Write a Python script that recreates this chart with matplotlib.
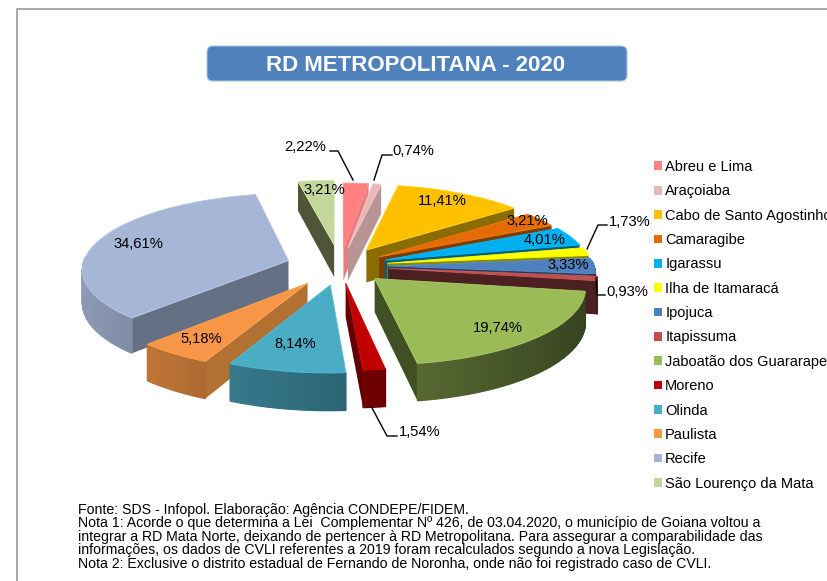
import numpy as np
import matplotlib
matplotlib.use('Agg')
import matplotlib.pyplot as plt
from matplotlib.patches import Polygon, FancyBboxPatch, Patch
from matplotlib.colors import to_rgb

plt.rcParams['font.family'] = ['Liberation Sans', 'DejaVu Sans']

categories = ['Abreu e Lima', 'Araçoiaba', 'Cabo de Santo Agostinho', 'Camaragibe', 'Igarassu',
              'Ilha de Itamaracá', 'Ipojuca', 'Itapissuma', 'Jaboatão dos Guararapes', 'Moreno',
              'Olinda', 'Paulista', 'Recife', 'São Lourenço da Mata']
values = [2.22, 0.74, 11.41, 3.21, 4.01, 1.73, 3.33, 0.93, 19.74, 1.54, 8.14, 5.18, 34.61, 3.21]
value_labels = ['2,22%', '0,74%', '11,41%', '3,21%', '4,01%', '1,73%', '3,33%', '0,93%', '19,74%',
                '1,54%', '8,14%', '5,18%', '34,61%', '3,21%']

colors = ['#ff8080', '#e6b8b7', '#ffc000', '#e36c09', '#00b0f0', '#ffff00', '#4f81bd', '#c0504d',
          '#9bbb59', '#c00000', '#4bacc6', '#f79646', '#a6b6d6', '#c3d69b']
wall_colors = ['#e87d7d', '#b89595', '#8a6c00', '#7a3e04', '#005f80', '#8a8a00', '#1f3f66', '#4a2020',
               '#414f24', '#650000', '#2f6f85', '#b37033', '#667085', '#50553a']
explode = [50, 50, 52, 47, 48, 48, 48, 49, 48, 46, 52, 56, 54, 60]

# posicao dos rotulos e linhas de chamada
label_pos = [(305, 147), (413, 151), (442, 201), (527, 221), (545, 240), (630, 222), (568, 265),
             (627, 292), (498, 328), (420, 432), (295, 344), (201, 339), (138, 244), (324, 190)]
leaders = [[(330, 151), (338, 151), (353, 180)],
           [(392, 155), (382, 155), (374, 180)],
           [(607, 225), (598, 225), (587, 249)],
           [(605, 295), (597, 295), (596, 278)],
           [(397, 436), (387, 436), (371, 406)]]

footer = ['Fonte: SDS - Infopol. Elaboração: Agência CONDEPE/FIDEM.',
          'Nota 1: Acorde o que determina a Lei  Complementar Nº 426, de 03.04.2020, o município de Goiana voltou a',
          'integrar a RD Mata Norte, deixando de pertencer à RD Metropolitana. Para assegurar a comparabilidade das',
          'informações, os dados de CVLI referentes a 2019 foram recalculados segundo a nova Legislação.',
          'Nota 2: Exclusive o distrito estadual de Fernando de Noronha, onde não foi registrado caso de CVLI.']

cx, cy = 340, 266  # centro da pizza em pixels
rx, ry = 206, 75
persp = 0.1
depth = 33


def project(x, y):
    # x, y no plano da pizza, em unidades de rx
    s = 1 / (1 + persp * y)
    return cx + rx * x * s, cy - ry * y * s, s


def shade(c, f):
    return tuple(min(1, v * f) for v in to_rgb(c))


fig = plt.figure(figsize=(8.28, 5.81), dpi=100)
ax = fig.add_axes([0, 0, 1, 1])
ax.set_xlim(0, 828)
ax.set_ylim(581, 0)
ax.axis('off')

# moldura
ax.plot([17, 17, 828], [581, 9, 9], color='#a0a0a0', lw=1.3)

# titulo
ax.add_patch(FancyBboxPatch((207, 46), 420, 35, boxstyle='round,pad=0,rounding_size=6',
                            fc='#4f81bd', ec='#a9c2e0', lw=0.8))
ax.text(416, 65.5, 'RD METROPOLITANA - 2020', color='white', fontsize=16, fontweight='bold',
        ha='center', va='center')

# fatias: de tras para a frente
edges = np.cumsum([0] + values) / sum(values) * 2 * np.pi
mids = (edges[:-1] + edges[1:]) / 2
order = np.argsort(-np.cos(mids))

for i in order:
    a0, a1 = edges[i], edges[i + 1]
    ex = explode[i] / rx * np.sin(mids[i])
    ey = explode[i] / rx * np.cos(mids[i])
    t = np.linspace(a0, a1, max(int((a1 - a0) * 60), 3))
    px, py, ps = project(ex + np.sin(t), ey + np.cos(t))
    tx, ty, ts = project(ex, ey)

    # parede reta: a0 aparece na esquerda da pizza, a1 na direita
    if a0 > np.pi:
        ax.add_patch(Polygon([(tx, ty), (px[0], py[0]), (px[0], py[0] + depth * ps[0]), (tx, ty + depth * ts)],
                             fc=wall_colors[i], ec='none', zorder=2))
    if a1 < np.pi:
        ax.add_patch(Polygon([(tx, ty), (px[-1], py[-1]), (px[-1], py[-1] + depth * ps[-1]), (tx, ty + depth * ts)],
                             fc=wall_colors[i], ec='none', zorder=2))
    # borda externa em pedacos, com sombra conforme o angulo
    for j in range(len(t) - 1):
        if np.cos(t[j]) < 0.05 or np.cos(t[j + 1]) < 0.05:
            f = 0.6 - 0.25 * np.sin((t[j] + t[j + 1]) / 2)
            ax.add_patch(Polygon([(px[j], py[j]), (px[j + 1], py[j + 1]),
                                  (px[j + 1], py[j + 1] + depth * ps[j + 1]), (px[j], py[j] + depth * ps[j])],
                                 fc=shade(colors[i], f), ec=shade(colors[i], f), lw=0.9, zorder=2))
    ax.add_patch(Polygon(np.column_stack([np.r_[tx, px], np.r_[ty, py]]), fc=colors[i],
                         ec=shade(colors[i], 1.1), lw=0.6, zorder=2))

for lab, (x, y) in zip(value_labels, label_pos):
    ax.text(x, y, lab, fontsize=10.6, color='black', ha='center', va='center', zorder=5)
for pts in leaders:
    ax.plot(*zip(*pts), color='black', lw=1, zorder=4)

handles = [Patch(fc=c, ec='none') for c in colors]
ax.legend(handles, categories, loc='upper left', bbox_to_anchor=(654 / 828, 1 - 160 / 581), frameon=False,
          fontsize=10.5, labelspacing=0.71, handlelength=0.55, handleheight=0.55, handletextpad=0.22,
          borderpad=0, borderaxespad=0)

for k, line in enumerate(footer):
    ax.text(78, 510 + k * 13.4, line, fontsize=10.15, color='black', ha='left', va='center')

fig.savefig('out.png', dpi=100)
